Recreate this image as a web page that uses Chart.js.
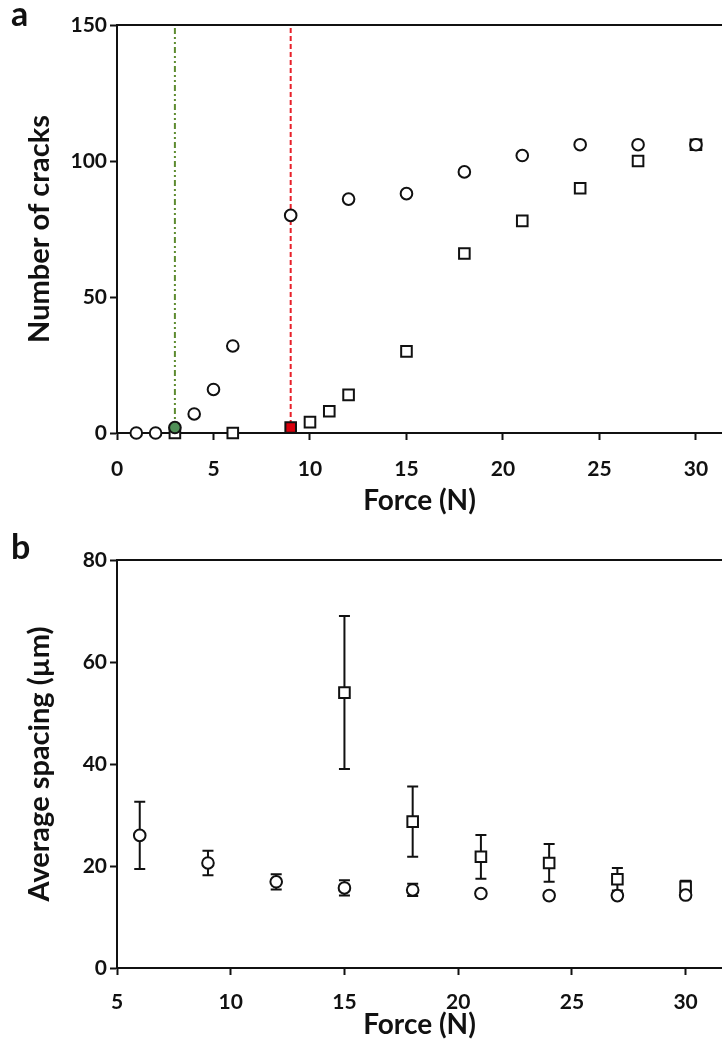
<!DOCTYPE html>
<html>
<head>
<meta charset="utf-8">
<script src="https://cdn.jsdelivr.net/npm/chart.js@4.4.0/dist/chart.umd.min.js"></script>
<style>
  body { margin: 0; background: #fff; width: 722px; height: 1053px; overflow: hidden; position: relative; }
  canvas { position: absolute; left: 0; }
  .tag { position: absolute; font: bold 34px Lato, sans-serif; line-height: 34px; color: #111; }
</style>
</head>
<body>
<canvas id="cracks" width="722" height="520" style="top:0"></canvas>
<canvas id="spacing" width="722" height="533" style="top:520px"></canvas>
<div class="tag" style="left:11px; top:-4px">a</div>
<div class="tag" style="left:11px; top:529px">b</div>
<script>
// panel a: number of cracks against applied force
const forceCircle  = [1, 2, 3, 4, 5, 6, 9, 12, 15, 18, 21, 24, 27, 30];
const cracksCircle = [0, 0, 2, 7, 16, 32, 80, 86, 88, 96, 102, 106, 106, 106];
const forceSquare  = [3, 6, 9, 10, 11, 12, 15, 18, 21, 24, 27, 30];
const cracksSquare = [0, 0, 2, 4, 8, 14, 30, 66, 78, 90, 100, 106];
const onsetCircle = 3;   // force at first crack, circles
const onsetSquare = 9;   // force at first crack, squares
const ticksForceA = [0, 5, 10, 15, 20, 25, 30];
const ticksCracks = [0, 50, 100, 150];

// panel b: average crack spacing (mean and error) against force
const forceSpacingCircle = [6, 9, 12, 15, 18, 21, 24, 27, 30];
const spacingCircle      = [26, 20.6, 16.9, 15.7, 15.3, 14.6, 14.2, 14.2, 14.3];
const errorCircle        = [6.6, 2.4, 1.5, 1.5, 1.2, 0.6, 0.6, 0.6, 0.6];
const forceSpacingSquare = [15, 18, 21, 24, 27, 30];
const spacingSquare      = [54, 28.7, 21.8, 20.6, 17.4, 15.9];
const errorSquare        = [15, 6.9, 4.3, 3.7, 2.2, 1.2];
const ticksForceB = [5, 10, 15, 20, 25, 30];
const ticksSpacing = [0, 20, 40, 60, 80];

const ink = '#111';
Chart.defaults.font.family = 'Lato, "Open Sans", sans-serif';
Chart.defaults.color = ink;

const toPoints = (xs, ys) => xs.map((x, i) => ({ x: x, y: ys[i] }));

function axis(o) {
  return {
    type: 'linear',
    min: o.min,
    max: o.max,
    afterBuildTicks: s => { s.ticks = o.ticks.map(v => ({ value: v })); },
    afterFit: s => {
      if (s.isHorizontal()) {
        s.height = o.size;
        s.paddingLeft = 0;
        s.paddingRight = 0;
      } else {
        s.width = o.size;
      }
    },
    border: { display: true, color: ink, width: 2 },
    grid: { drawOnChartArea: false, drawTicks: true, tickLength: 7, tickWidth: 2, tickColor: ink, color: ink },
    ticks: { font: { size: 21, weight: 'bold' }, color: ink, padding: o.tickPad },
    title: { display: true, text: o.title, font: { size: o.titleSize || 28, weight: 'bold' }, color: ink, padding: o.titlePad }
  };
}

// closing line along the top of the plot area
const topRule = {
  id: 'topRule',
  afterDraw(chart) {
    const { ctx, chartArea: a } = chart;
    ctx.save();
    ctx.strokeStyle = ink;
    ctx.lineWidth = 2;
    ctx.beginPath();
    ctx.moveTo(a.left - 1, a.top);
    ctx.lineTo(a.right, a.top);
    ctx.stroke();
    ctx.restore();
  }
};

// vertical error bars with caps, drawn under the markers
const errorBars = {
  id: 'errorBars',
  beforeDatasetsDraw(chart) {
    const { ctx, scales: { x, y } } = chart;
    ctx.save();
    ctx.strokeStyle = ink;
    ctx.lineWidth = 2;
    chart.data.datasets.forEach(ds => {
      if (!ds.errors) return;
      ds.data.forEach((p, i) => {
        const px = x.getPixelForValue(p.x);
        const top = y.getPixelForValue(p.y + ds.errors[i]);
        const bot = y.getPixelForValue(p.y - ds.errors[i]);
        ctx.beginPath();
        ctx.moveTo(px, top); ctx.lineTo(px, bot);
        ctx.moveTo(px - 5.5, top); ctx.lineTo(px + 5.5, top);
        ctx.moveTo(px - 5.5, bot); ctx.lineTo(px + 5.5, bot);
        ctx.stroke();
      });
    });
    ctx.restore();
  }
};

new Chart(document.getElementById('cracks'), {
  type: 'scatter',
  data: {
    datasets: [{
      data: toPoints(forceCircle, cracksCircle),
      pointStyle: 'circle',
      pointRadius: 5.8,
      borderWidth: 2,
      borderColor: ink,
      backgroundColor: forceCircle.map(f => f === onsetCircle ? '#4f8f56' : '#fff'),
      clip: false
    }, {
      data: toPoints(forceSquare, cracksSquare),
      pointStyle: 'rect',
      pointRadius: 7.5,
      borderWidth: 2,
      borderColor: ink,
      backgroundColor: forceSquare.map(f => f === onsetSquare ? '#d9000d' : '#fff'),
      clip: false
    }, {
      data: [{ x: onsetCircle, y: 0 }, { x: onsetCircle, y: 150 }],
      showLine: true,
      pointRadius: 0,
      borderColor: '#5d8b2f',
      borderWidth: 2,
      borderDash: [6, 3, 2, 3, 2, 3]
    }, {
      data: [{ x: onsetSquare, y: 0 }, { x: onsetSquare, y: 150 }],
      showLine: true,
      pointRadius: 0,
      borderColor: '#e8202a',
      borderWidth: 2,
      borderDash: [5, 3]
    }]
  },
  options: {
    responsive: false,
    animation: false,
    layout: { autoPadding: false, padding: { top: 25, right: 0, bottom: 0, left: 0 } },
    plugins: { legend: { display: false }, tooltip: { enabled: false } },
    scales: {
      x: axis({ min: 0, max: 31.35, ticks: ticksForceA, size: 87, tickPad: 17,
                title: 'Force (N)', titlePad: { top: 0, bottom: 2 } }),
      y: axis({ min: 0, max: 150, ticks: ticksCracks, size: 117, tickPad: 3, titleSize: 29,
                title: 'Number of cracks', titlePad: { top: 22, bottom: 0 } })
    }
  },
  plugins: [topRule]
});

new Chart(document.getElementById('spacing'), {
  type: 'scatter',
  data: {
    datasets: [{
      data: toPoints(forceSpacingCircle, spacingCircle),
      errors: errorCircle,
      pointStyle: 'circle',
      pointRadius: 5.8,
      borderWidth: 2,
      borderColor: ink,
      backgroundColor: '#fff',
      clip: false
    }, {
      data: toPoints(forceSpacingSquare, spacingSquare),
      errors: errorSquare,
      pointStyle: 'rect',
      pointRadius: 7.5,
      borderWidth: 2,
      borderColor: ink,
      backgroundColor: '#fff',
      clip: false
    }]
  },
  options: {
    responsive: false,
    animation: false,
    layout: { autoPadding: false, padding: { top: 40, right: 0, bottom: 0, left: 0 } },
    plugins: { legend: { display: false }, tooltip: { enabled: false } },
    scales: {
      x: axis({ min: 5, max: 31.6, ticks: ticksForceB, size: 85, tickPad: 15,
                title: 'Force (N)', titlePad: { top: 0, bottom: 11 } }),
      y: axis({ min: 0, max: 80, ticks: ticksSpacing, size: 117, tickPad: 3, titleSize: 29,
                title: 'Average spacing (µm)', titlePad: { top: 22, bottom: 0 } })
    }
  },
  plugins: [topRule, errorBars]
});
</script>
</body>
</html>
